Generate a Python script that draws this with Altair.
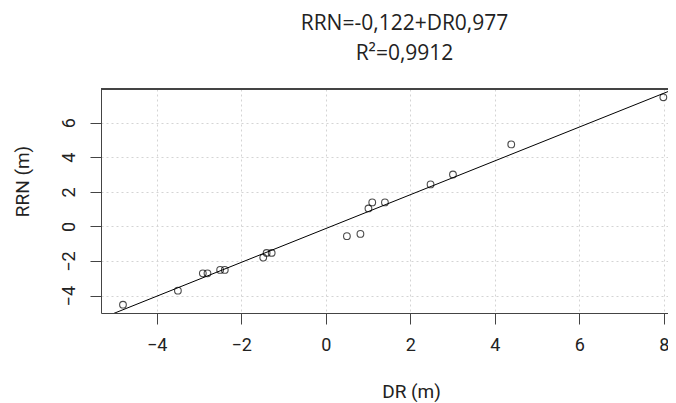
import altair as alt
import pandas as pd

# ---- data ----
dr = [-4.80, -3.50, -2.91, -2.80, -2.50, -2.39, -1.48, -1.40, -1.28,
      0.50, 0.82, 1.01, 1.10, 1.40, 2.48, 3.01, 4.39, 7.99]
rrn = [-4.52, -3.71, -2.71, -2.71, -2.51, -2.51, -1.80, -1.53, -1.53,
       -0.56, -0.43, 1.04, 1.39, 1.39, 2.43, 3.00, 4.74, 7.46]
intercept = -0.122
slope = 0.977
x_ticks = [-4, -2, 0, 2, 4, 6, 8]
y_ticks = [-4, -2, 0, 2, 4, 6]
title_lines = ["RRN=-0,122+DR0,977", "R²=0,9912"]
x_title = "DR (m)"
y_title = "RRN (m)"

X_DOMAIN = [-5.32, 8.10]
Y_DOMAIN = [-5.0, 7.94]
W, H = 567, 224

pts = pd.DataFrame({"dr": dr, "rrn": rrn})
fit = pd.DataFrame({"dr": X_DOMAIN,
                    "rrn": [intercept + slope * v for v in X_DOMAIN]})

xs = alt.Scale(domain=X_DOMAIN, nice=False, zero=False)
ys = alt.Scale(domain=Y_DOMAIN, nice=False, zero=False)

x_axis = alt.Axis(values=x_ticks, title=x_title, grid=True,
                  labelPadding=12, titleX=310, titleY=84,
                  titleBaseline="alphabetic", titleAnchor="start",
                  titleAlign="center")
y_axis = alt.Axis(values=y_ticks, title=y_title, grid=True,
                  labelAngle=270, labelPadding=12,
                  titleAngle=270, titleX=-79, titleY=92,
                  titleAlign="center", titleBaseline="middle")

points = alt.Chart(pts).mark_point(
    shape="circle", filled=False, color="black", size=45, strokeWidth=1.1
).encode(
    x=alt.X("dr:Q", scale=xs, axis=x_axis),
    y=alt.Y("rrn:Q", scale=ys, axis=y_axis),
)

line = alt.Chart(fit).mark_line(color="black", strokeWidth=1, clip=True).encode(
    x=alt.X("dr:Q", scale=xs),
    y=alt.Y("rrn:Q", scale=ys),
)

top_border = alt.Chart(pts).mark_rule(color="#444", strokeWidth=1).encode(
    x=alt.value(0), x2=alt.value(W), y=alt.value(0)
)

chart = alt.layer(line, points, top_border).properties(
    width=W, height=H,
    autosize=alt.AutoSizeParams(type="none"),
    padding={"left": 93, "top": 81, "right": 0, "bottom": 90},
    title=alt.TitleParams(
        text=title_lines, anchor="middle", frame="group", dx=20,
        font="Open Sans", fontSize=21, fontWeight="normal", color="#222",
        lineHeight=30, baseline="bottom", offset=4,
    ),
).configure_view(stroke=None).configure_axis(
    domainColor="#444", tickColor="#444", tickSize=11,
    labelFont="Roboto", labelFontSize=18, labelColor="#222",
    titleFont="Roboto", titleFontSize=19, titleFontWeight="normal",
    titleColor="#222",
    gridColor="#d4d4d4", gridDash=[2, 3], gridWidth=1,
)

chart.save("out.html", embed_options={"renderer": "svg", "actions": False})
